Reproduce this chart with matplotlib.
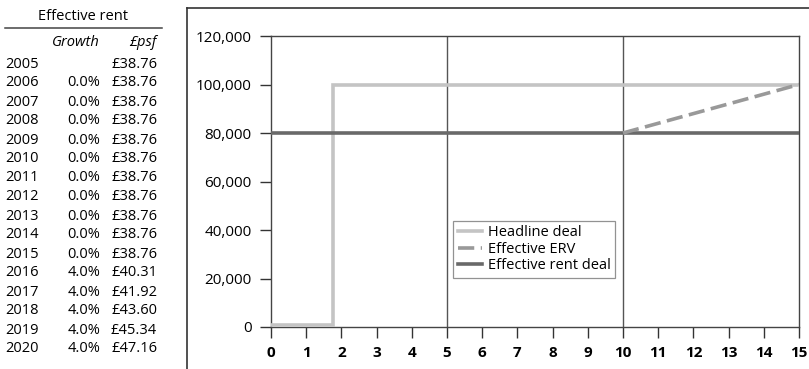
import matplotlib.pyplot as plt
from matplotlib.lines import Line2D

plt.rcParams['font.family'] = ['Open Sans', 'DejaVu Sans']

# rent table
years = [2005, 2006, 2007, 2008, 2009, 2010, 2011, 2012, 2013, 2014, 2015,
         2016, 2017, 2018, 2019, 2020]
growth = ["", "0.0%", "0.0%", "0.0%", "0.0%", "0.0%", "0.0%", "0.0%", "0.0%",
          "0.0%", "0.0%", "4.0%", "4.0%", "4.0%", "4.0%", "4.0%"]
psf = ["£38.76", "£38.76", "£38.76", "£38.76", "£38.76", "£38.76", "£38.76",
       "£38.76", "£38.76", "£38.76", "£38.76", "£40.31", "£41.92", "£43.60",
       "£45.34", "£47.16"]

# chart series
headline_x = [0, 1.75, 1.75, 15]
headline_y = [1000, 1000, 100000, 100000]
erv_x = [10, 15]
erv_y = [80000, 100000]
eff_x = [0, 15]
eff_y = [80000, 80000]
yticks = list(range(0, 120001, 20000))
xticks = list(range(0, 16))

W, H = 809, 369
fig = plt.figure(figsize=(W / 100, H / 100), dpi=100)

def px(x, y):
    return x / W, 1 - y / H

# table on the left
fs = 10.5
fig.text(*px(83, 16), "Effective rent", ha='center', va='center', fontsize=fs)
fig.add_artist(Line2D([5 / W, 162 / W], [1 - 28 / H] * 2, color='#444444', lw=1.1))
fig.text(*px(100, 42), "Growth", ha='right', va='center', fontsize=fs, style='italic')
fig.text(*px(157, 42), "£psf", ha='right', va='center', fontsize=fs, style='italic')
for i, (yr, g, p) in enumerate(zip(years, growth, psf)):
    yy = 64 + i * 19.0
    fig.text(*px(5, yy), str(yr), ha='left', va='center', fontsize=fs)
    fig.text(*px(100, yy), g, ha='right', va='center', fontsize=fs)
    fig.text(*px(157, yy), p, ha='right', va='center', fontsize=fs)

# outer frame around chart
fig.add_artist(Line2D([187 / W, 187 / W], [0, 1 - 8 / H], color='#333333', lw=1.2))
fig.add_artist(Line2D([187 / W, 1], [1 - 8 / H, 1 - 8 / H], color='#333333', lw=1.2))

ax = fig.add_axes([271 / W, 1 - 327 / H, (799 - 271) / W, (327 - 36) / H])
ax.plot(headline_x, headline_y, color='#c4c4c4', lw=2.6, label='Headline deal',
        solid_joinstyle='miter', zorder=3)
ax.plot(erv_x, erv_y, color='#999999', lw=2.6, ls=(0, (4.5, 1.8)), label='Effective ERV',
        zorder=4)
ax.plot(eff_x, eff_y, color='#696969', lw=2.6, label='Effective rent deal', zorder=3)

ax.set_xlim(0, 15)
ax.set_ylim(0, 120000)
ax.set_xticks(xticks)
ax.set_xticklabels([str(v) for v in xticks], fontweight='bold', fontsize=11)
ax.set_yticks(yticks)
ax.set_yticklabels([f"{v:,}" for v in yticks], fontsize=11)
ax.tick_params(axis='both', length=8, width=1, color='#333333', direction='out')
ax.tick_params(axis='y', pad=6)
ax.tick_params(axis='x', pad=6)
for x in (5, 10):
    ax.axvline(x, color='#555555', lw=1, zorder=1)
for s in ax.spines.values():
    s.set_color('#444444')
    s.set_linewidth(1)

leg = ax.legend(loc='upper left', bbox_to_anchor=(0.345, 0.364), fontsize=10.5,
                frameon=True, fancybox=False, edgecolor='#777777', handlelength=1.7,
                handletextpad=0.4, borderpad=0.3, labelspacing=0.1, borderaxespad=0)
leg.get_frame().set_linewidth(0.9)

fig.savefig("out.png", dpi=100)
